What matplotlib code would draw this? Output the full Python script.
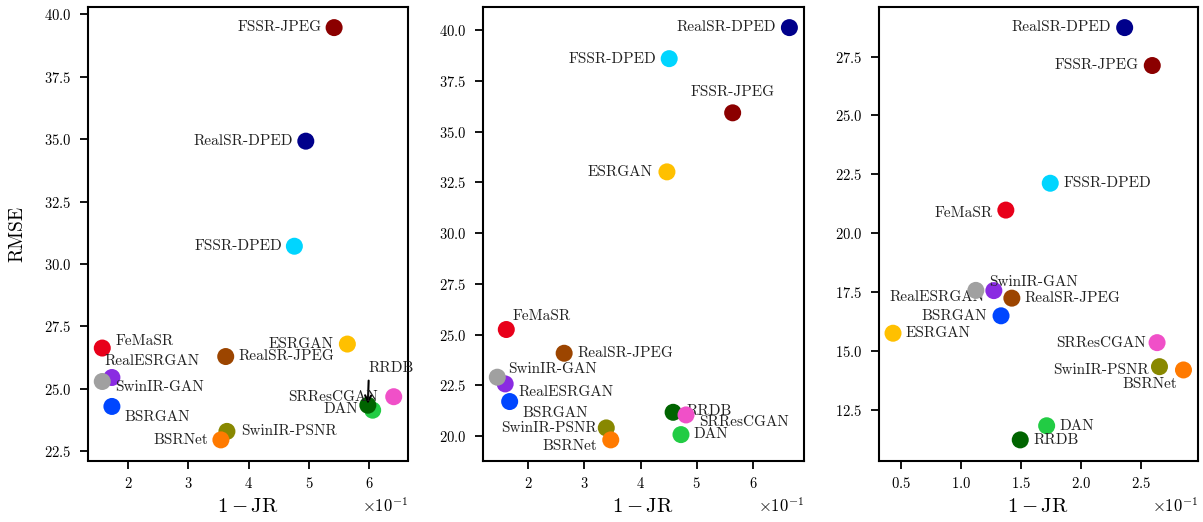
import matplotlib
matplotlib.use('Agg')
import matplotlib.pyplot as plt
from matplotlib.ticker import ScalarFormatter

plt.rcParams['font.family'] = 'cmr10'
plt.rcParams['mathtext.fontset'] = 'cm'
plt.rcParams['axes.unicode_minus'] = False
plt.rcParams['axes.formatter.use_mathtext'] = True

# methods, in drawing order
methods = ['FSSR-JPEG', 'RealSR-DPED', 'FSSR-DPED', 'ESRGAN', 'RealSR-JPEG', 'FeMaSR',
           'RealESRGAN', 'SwinIR-GAN', 'BSRGAN', 'SwinIR-PSNR', 'BSRNet', 'DAN',
           'RRDB', 'SRResCGAN']
colors = ['#8b0000', '#00008b', '#00d5ff', '#ffc000', '#9c4500', '#e8001a',
          '#8a2be2', '#a0a0a0', '#0046ff', '#888800', '#ff7a00', '#22cc44',
          '#006400', '#f050c8']

# 1 - JR values (fraction) and RMSE, one pair of lists per panel
jr_a = [0.542, 0.495, 0.476, 0.564, 0.362, 0.157, 0.173, 0.157, 0.173, 0.364, 0.354, 0.606, 0.598, 0.641]
rmse_a = [39.47, 34.92, 30.71, 26.79, 26.29, 26.63, 25.45, 25.29, 24.29, 23.29, 22.95, 24.14, 24.34, 24.68]

jr_b = [0.564, 0.665, 0.451, 0.447, 0.264, 0.161, 0.159, 0.145, 0.167, 0.339, 0.347, 0.472, 0.458, 0.481]
rmse_b = [35.93, 40.13, 38.60, 33.02, 24.08, 25.25, 22.57, 22.90, 21.70, 20.40, 19.81, 20.07, 21.17, 21.04]

jr_c = [0.259, 0.236, 0.174, 0.043, 0.142, 0.137, 0.127, 0.112, 0.133, 0.265, 0.285, 0.171, 0.149, 0.263]
rmse_c = [27.12, 28.73, 22.12, 15.75, 17.24, 20.98, 17.56, 17.57, 16.49, 14.33, 14.19, 11.82, 11.22, 15.35]

# label placement: (dx px, dy px, ha)
offs_a = {'FSSR-JPEG': (-13, 0, 'right'), 'RealSR-DPED': (-13, 0, 'right'),
          'FSSR-DPED': (-12, 0, 'right'), 'ESRGAN': (-14, 0, 'right'),
          'RealSR-JPEG': (13, 0, 'left'), 'FeMaSR': (13, 7, 'left'),
          'RealESRGAN': (-7, 16, 'left'), 'SwinIR-GAN': (13, -6, 'left'),
          'BSRGAN': (13, -11, 'left'), 'SwinIR-PSNR': (14, 0, 'left'),
          'BSRNet': (-13, 0, 'right'), 'SRResCGAN': (-16, 0, 'right'),
          'DAN': (-15, 1, 'right'), 'RRDB': (1, 37, 'left')}
offs_b = {'RealSR-DPED': (-13, 0, 'right'), 'FSSR-DPED': (-13, 0, 'right'),
          'FSSR-JPEG': (0, 21, 'center'), 'ESRGAN': (-14, 0, 'right'),
          'FeMaSR': (6, 13, 'left'), 'RealSR-JPEG': (13, 0, 'left'),
          'SwinIR-GAN': (11, 8, 'left'), 'RealESRGAN': (13, -8, 'left'),
          'BSRGAN': (13, -12, 'left'), 'SwinIR-PSNR': (-9, 0, 'right'),
          'BSRNet': (-14, -6, 'right'), 'RRDB': (13, 1, 'left'),
          'SRResCGAN': (13, -7, 'left'), 'DAN': (12, 0, 'left')}
offs_c = {'RealSR-DPED': (-14, 0, 'right'), 'FSSR-JPEG': (-14, 0, 'right'),
          'FSSR-DPED': (13, 0, 'left'), 'FeMaSR': (-13, -3, 'right'),
          'SwinIR-GAN': (13, 8, 'left'), 'RealESRGAN': (-9, -7, 'right'),
          'RealSR-JPEG': (13, 0, 'left'), 'BSRGAN': (-14, 0, 'right'),
          'ESRGAN': (13, 0, 'left'), 'SRResCGAN': (-11, 0, 'right'),
          'SwinIR-PSNR': (-11, -3, 'right'), 'BSRNet': (-6, -14, 'right'),
          'DAN': (13, 0, 'left'), 'RRDB': (13, 0, 'left')}

fig = plt.figure(figsize=(12.03, 5.22), dpi=100)
boxes = [(87.7, 408.3), (482.7, 804), (878.5, 1198)]
panels = [(jr_a, rmse_a, offs_a), (jr_b, rmse_b, offs_b), (jr_c, rmse_c, offs_c)]
px = 0.72  # points per pixel at 100 dpi

for i, ((l, r), (xs, ys, offs)) in enumerate(zip(boxes, panels)):
    ax = fig.add_axes([l / 1203, 1 - 460.5 / 522, (r - l) / 1203, 453.5 / 522])
    for m, c, x, y in zip(methods, colors, xs, ys):
        ax.scatter(x, y, s=150, color=c, edgecolors='none', zorder=3)
        dx, dy, ha = offs[m]
        if i == 0 and m == 'RRDB':
            ax.annotate(m, (x, y), xytext=(dx * px, dy * px), textcoords='offset points',
                        ha=ha, va='center', fontsize=11, color='#222222',
                        arrowprops=dict(arrowstyle='->', color='black', lw=1.5,
                                        relpos=(0, 0), shrinkA=2, shrinkB=1))
        else:
            ax.annotate(m, (x, y), xytext=(dx * px, dy * px), textcoords='offset points',
                        ha=ha, va='center', fontsize=11, color='#222222')

    fmt = ScalarFormatter(useMathText=True)
    fmt.set_powerlimits((0, 0))
    ax.xaxis.set_major_formatter(fmt)
    ax.xaxis.get_offset_text().set_fontsize(12)
    ax.tick_params(labelsize=10.5, length=5.5, width=1.3, direction='out',
                   top=False, right=False)
    ax.tick_params(axis='y', pad=6)
    ax.tick_params(axis='x', pad=6)
    for s in ax.spines.values():
        s.set_linewidth(1.5)
    ax.set_xlabel(r'$1-\mathrm{JR}$', fontsize=15, labelpad=5)
    if i == 0:
        ax.set_ylabel('RMSE', fontsize=14)
        ax.yaxis.set_label_coords(-0.19, 0.5)

fig.savefig('out.png', dpi=100)
